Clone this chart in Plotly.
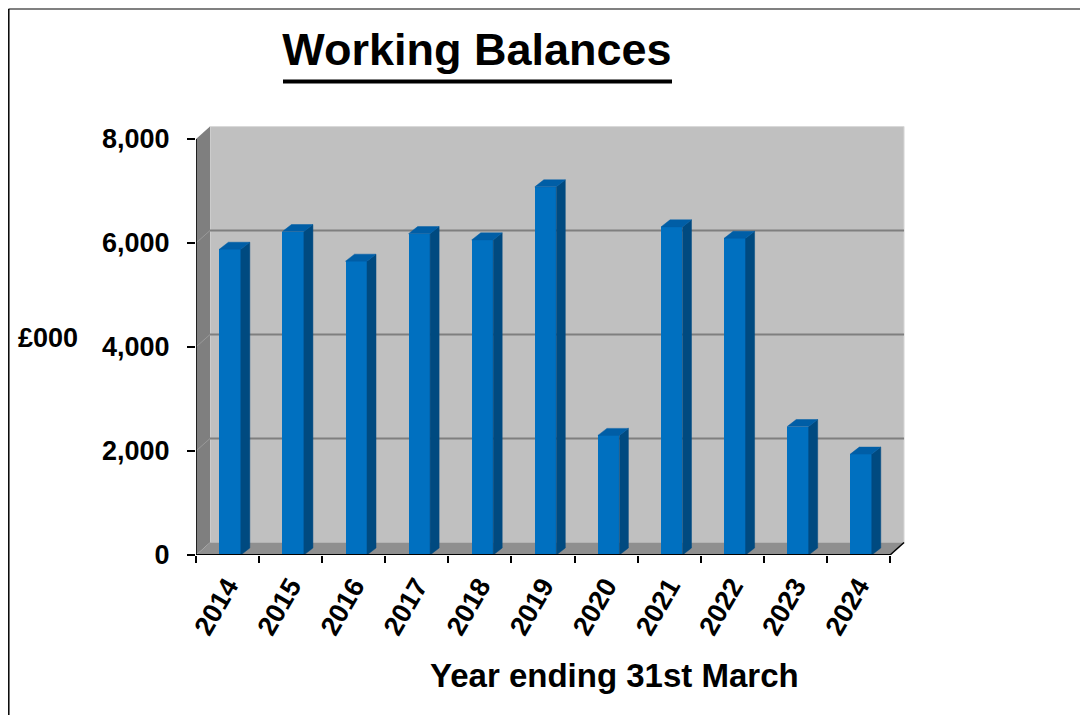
import plotly.graph_objects as go

# ---- data ----
years = ["2014", "2015", "2016", "2017", "2018", "2019",
         "2020", "2021", "2022", "2023", "2024"]
balances = [5880, 6220, 5650, 6180, 6060, 7080, 2300, 6310, 6090, 2470, 1940]
y_ticks = [0, 2000, 4000, 6000, 8000]
y_tick_labels = ["0", "2,000", "4,000", "6,000", "8,000"]

# ---- style ----
FONT = "Liberation Sans, Arial, sans-serif"
FRONT = "#0070C0"
SIDE = "#004A80"
TOP = "#005EA6"
WALL = "#C0C0C0"
SIDEWALL = "#7F7F7F"
FLOOR = "#8F8F8F"
GRID = "#7F7F7F"

n = len(years)
DX, DY = 0.222, 240          # depth offset of back wall (x units, y units)
BAR_OFF, BAR_W = 0.37, 0.34  # front-face position within category
SD_X, SD_Y = 0.143, 135      # bar depth projection
YMAX = y_ticks[-1]

W, H = 1088, 715
OFF = 8  # page body margin: screen px = figure px + OFF

# screen-pixel targets of the plot area
S_LEFT, S_RIGHT, S_TOP, S_BOTTOM = 196, 905, 126, 555
L = S_LEFT - OFF
R = W - (S_RIGHT - OFF)
T = S_TOP - OFF
B = H - (S_BOTTOM - OFF)
pw, ph = W - L - R, H - T - B


def px_x(p):
    """screen px -> paper x"""
    return (p - OFF - L) / pw


def px_y(p):
    """screen px -> paper y"""
    return (H - B - (p - OFF)) / ph


fig = go.Figure()

centers = [i + BAR_OFF + BAR_W / 2 for i in range(n)]
fig.add_trace(go.Bar(
    x=centers, y=balances, width=BAR_W,
    marker=dict(color=FRONT, line=dict(width=0)),
    hovertemplate="%{y:,}<extra></extra>", showlegend=False,
))

sx, sy, tx, ty = [], [], [], []
for i, v in enumerate(balances):
    l = i + BAR_OFF
    r = l + BAR_W
    sx += [r, r + SD_X, r + SD_X, r, r, None]
    sy += [0, SD_Y, v + SD_Y, v, 0, None]
    tx += [l, r, r + SD_X, l + SD_X, l, None]
    ty += [v, v, v + SD_Y, v + SD_Y, v, None]

fig.add_trace(go.Scatter(x=sx, y=sy, mode="lines", fill="toself",
                         fillcolor=SIDE, line=dict(color=SIDE, width=0.5),
                         hoverinfo="skip", showlegend=False))
fig.add_trace(go.Scatter(x=tx, y=ty, mode="lines", fill="toself",
                         fillcolor=TOP, line=dict(color=TOP, width=0.5),
                         hoverinfo="skip", showlegend=False))

shapes = []
# back wall
shapes.append(dict(type="rect", xref="x", yref="y", x0=DX, x1=n + DX,
                   y0=DY, y1=YMAX + DY, fillcolor=WALL,
                   line=dict(color="#D9D9D9", width=1), layer="below"))
# side wall
shapes.append(dict(type="path", xref="x", yref="y",
                   path=f"M 0,0 L {DX},{DY} L {DX},{YMAX + DY} L 0,{YMAX} Z",
                   fillcolor=SIDEWALL, line=dict(width=0), layer="below"))
# gridlines
for v in y_ticks[1:-1]:
    shapes.append(dict(type="line", xref="x", yref="y", x0=DX, x1=n + DX,
                       y0=v + DY, y1=v + DY, line=dict(color=GRID, width=2),
                       layer="below"))
    shapes.append(dict(type="line", xref="x", yref="y", x0=0, x1=DX,
                       y0=v, y1=v + DY, line=dict(color="#999999", width=1),
                       layer="below"))
# floor
shapes.append(dict(type="path", xref="x", yref="y",
                   path=f"M 0,0 L {n},0 L {n + DX},{DY} L {DX},{DY} Z",
                   fillcolor=FLOOR, line=dict(width=0), layer="below"))
# axis lines
shapes.append(dict(type="line", xref="x", yref="y", x0=0, x1=0, y0=0, y1=YMAX,
                   line=dict(color="black", width=1.5)))
shapes.append(dict(type="line", xref="x", yref="y", x0=0, x1=n, y0=0, y1=0,
                   line=dict(color="black", width=2)))
shapes.append(dict(type="line", xref="x", yref="y", x0=n, x1=n + DX, y0=0, y1=DY,
                   line=dict(color="black", width=1.5)))
# outer frame
shapes.append(dict(type="line", xref="paper", yref="paper",
                   x0=px_x(8.5), x1=px_x(1100), y0=px_y(9), y1=px_y(9),
                   line=dict(color="#808080", width=2)))
shapes.append(dict(type="line", xref="paper", yref="paper",
                   x0=px_x(8.8), x1=px_x(8.8), y0=px_y(9), y1=px_y(730),
                   line=dict(color="black", width=1.5)))
# title underline
shapes.append(dict(type="line", xref="paper", yref="paper",
                   x0=px_x(283), x1=px_x(672), y0=px_y(81.5), y1=px_y(81.5),
                   line=dict(color="black", width=4)))

annotations = [
    dict(text="£000", xref="paper", yref="paper", x=px_x(16), y=px_y(338),
         xanchor="left", yanchor="middle", showarrow=False,
         font=dict(family=FONT, size=27, color="black", weight="bold")),
    dict(text="Year ending 31st March", xref="paper", yref="paper",
         x=px_x(614), y=px_y(675), xanchor="center", yanchor="middle",
         showarrow=False,
         font=dict(family=FONT, size=33, color="black", weight="bold")),
]

fig.update_layout(
    width=W, height=H,
    margin=dict(l=L, r=R, t=T, b=B, pad=0),
    paper_bgcolor="white", plot_bgcolor="white",
    title=dict(text="Working Balances", x=(477 - OFF) / W, xanchor="center",
               xref="container", y=1 - (49 - OFF) / H, yanchor="middle",
               yref="container",
               font=dict(family=FONT, size=45, color="black", weight="bold")),
    shapes=shapes, annotations=annotations,
    bargap=0,
    xaxis=dict(range=[0, n + DX + 0.015], showgrid=False, zeroline=False,
               showline=False, tickmode="array",
               tickvals=[i + 0.5 for i in range(n)], ticktext=years,
               ticks="", tickangle=-60, ticklabelstandoff=9,
               tickfont=dict(family=FONT, size=27, color="black", weight="bold"),
               minor=dict(tickmode="array", tickvals=list(range(n + 1)),
                          ticks="outside", ticklen=7, tickcolor="black",
                          tickwidth=1.5, showgrid=False),
               fixedrange=True),
    yaxis=dict(range=[0, YMAX + 250], showgrid=False, zeroline=False,
               showline=False, tickmode="array", tickvals=y_ticks,
               ticktext=y_tick_labels, ticks="outside", ticklen=8,
               tickcolor="black", tickwidth=1.5, ticklabelstandoff=12,
               tickfont=dict(family=FONT, size=27, color="black", weight="bold"),
               fixedrange=True),
)

fig.write_html("out.html")
